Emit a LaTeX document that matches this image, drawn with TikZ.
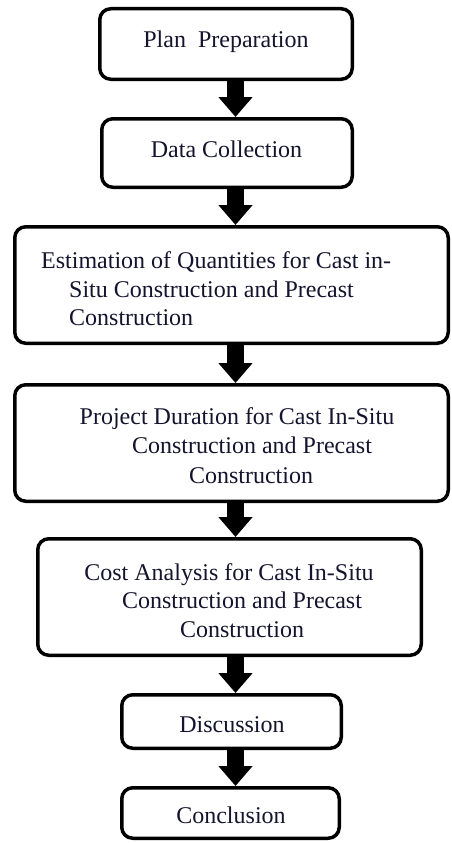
\documentclass[tikz,border=0pt]{standalone}
\usepackage{fontspec}
\setmainfont{Liberation Serif}
\usetikzlibrary{arrows.meta}
\definecolor{txt}{rgb}{0.08,0.08,0.18}
\tikzset{
  box/.style={draw=black, line width=3.5pt, rounded corners=11pt, fill=white, inner sep=0pt},
  lbl/.style={font=\fontsize{24}{29}\selectfont, text=txt, inner sep=0pt, anchor=base},
  lblw/.style={lbl, anchor=base west},
  flow/.style={line width=17pt, -{Triangle[width=33pt,length=20pt]}}
}
\begin{document}
\begin{tikzpicture}[x=1pt,y=-1pt]
\useasboundingbox[fill=white] (0,0) rectangle (451,843);
% boxes
\node[box, minimum width=252.5pt, minimum height=70.5pt] (b1) at (226,44) {};
\node[box, minimum width=250.5pt, minimum height=68.5pt] (b2) at (227,153) {};
\node[box, minimum width=433.5pt, minimum height=116.5pt] (b3) at (231.5,285) {};
\node[box, minimum width=433.5pt, minimum height=116.5pt] (b4) at (231.5,443) {};
\node[box, minimum width=383.5pt, minimum height=116.5pt] (b5) at (229.5,597) {};
\node[box, minimum width=219.5pt, minimum height=53.5pt] (b6) at (231.5,721.5) {};
\node[box, minimum width=217.5pt, minimum height=50.5pt] (b7) at (230.5,813) {};
% texts
\node[lbl] (t1) at (226,48) {Plan\ \ Preparation};
\node[lbl] (t2) at (226.5,157) {Data Collection};
\node[lblw] (t3a) at (41,268) {Estimation of Quantities for Cast in-};
\node[lblw] (t3b) at (69,297) {Situ Construction and Precast};
\node[lblw] (t3c) at (69,325) {Construction};
\node[lbl] (t4a) at (237,424) {Project Duration for Cast In-Situ};
\node[lbl] (t4b) at (252,453) {Construction and Precast};
\node[lbl] (t4c) at (251,483) {Construction};
\node[lbl] (t5a) at (229,580) {Cost Analysis for Cast In-Situ};
\node[lbl] (t5b) at (242,608) {Construction and Precast};
\node[lbl] (t5c) at (242,637) {Construction};
\node[lbl] (t6) at (232,732) {Discussion};
\node[lbl] (t7) at (231,823) {Conclusion};
% arrows
\coordinate (ax) at (235.5,0);
\draw[flow] (b1.south -| ax) -- (b2.north -| ax);
\draw[flow] (b2.south -| ax) -- (b3.north -| ax);
\draw[flow] (b3.south -| ax) -- (b4.north -| ax);
\draw[flow] (b4.south -| ax) -- (b5.north -| ax);
\draw[flow] (b5.south -| ax) -- (b6.north -| ax);
\draw[flow] (b6.south -| ax) -- (b7.north -| ax);
\end{tikzpicture}
\end{document}
